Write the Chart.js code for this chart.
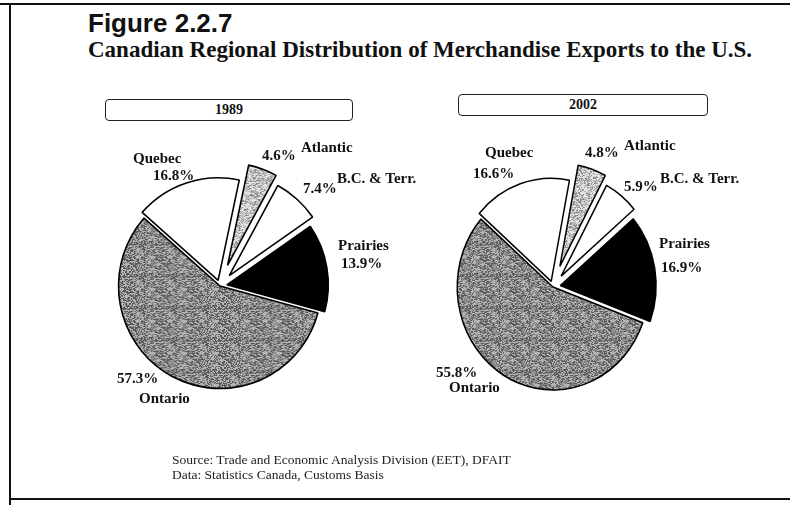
<!DOCTYPE html>
<html>
<head>
<meta charset="utf-8">
<script src="https://cdn.jsdelivr.net/npm/chart.js@4.4.1/dist/chart.umd.min.js"></script>
<style>
  body { margin: 0; background: #fff; }
  #page { position: relative; width: 790px; height: 505px; overflow: hidden; background: #fff; }
  canvas { position: absolute; left: 0; top: 0; }
  .line { position: absolute; background: #111; }
  .fig { position: absolute; left: 88px; top: 10px; font: bold 26px "Liberation Sans", Arial, sans-serif; line-height: 1; color: #111; }
  .sub { position: absolute; left: 88px; top: 38px; font: bold 23px "Liberation Serif", "Times New Roman", serif; line-height: 1; color: #111; white-space: nowrap; }
  .box { position: absolute; border: 1.5px solid #222; border-radius: 4px; height: 20px; text-align: center;
         font: bold 14px "Liberation Serif", "Times New Roman", serif; line-height: 20px; color: #111; }
  .src { position: absolute; left: 172px; top: 452px; font: 13.5px "Liberation Serif", "Times New Roman", serif; color: #222; line-height: 15px; }
</style>
</head>
<body>
<div id="page">
  <div class="line" style="left:0;top:3px;width:790px;height:2px"></div>
  <div class="line" style="left:9px;top:3px;width:2px;height:502px"></div>
  <div class="line" style="left:9px;top:498px;width:781px;height:2px"></div>

  <div class="fig">Figure 2.2.7</div>
  <div class="sub">Canadian Regional Distribution of Merchandise Exports to the U.S.</div>

  <div class="box" id="box0" style="left:105px;top:99px;width:246px"></div>
  <div class="box" id="box1" style="left:458px;top:94px;width:248px"></div>

  <canvas id="pie1989" width="790" height="505"></canvas>
  <canvas id="pie2002" width="790" height="505"></canvas>

  <div class="src">Source: Trade and Economic Analysis Division (EET), DFAIT<br>Data: Statistics Canada, Customs Basis</div>
</div>

<script>
// ==========================
// DADOS
// ==========================
const years = ['1989', '2002'];
const regions = ['Atlantic', 'B.C. & Terr.', 'Prairies', 'Ontario', 'Quebec'];
const shares1989 = [4.6, 7.4, 13.9, 57.3, 16.8];
const shares2002 = [4.8, 5.9, 16.9, 55.8, 16.6];

// ==========================
// ESTILO / LAYOUT
// ==========================
// pie centre, radius, horizontal squash (the scan is slightly oval),
// start angle (deg from 12 o'clock) and explode distance per slice
const pies = [
  { id: 'pie1989', cx: 220, cy: 286, r: 102.5, sx: 0.99, rotation: 12, explode: [22, 14, 7, 0, 6] },
  { id: 'pie2002', cx: 553, cy: 287, r: 103, sx: 0.93, rotation: 11, explode: [22, 14, 8, 0, 6] }
];

// label anchors: [name x, name y, pct x, pct y] (left / baseline)
const labelPos = [
  [
    [301, 152, 262, 160],
    [337, 183, 303, 193],
    [338, 250, 341, 268],
    [139, 403, 117, 383],
    [133, 163, 153, 180]
  ],
  [
    [624, 150, 585, 157],
    [660, 183, 624, 191],
    [659, 248, 661, 272],
    [449, 392, 436, 377],
    [485, 157, 473, 178]
  ]
];

// stippled grey like the printed halftone (fixed integer hash, no randomness)
function stipple(dark, light, density) {
  const n = 32;
  const c = document.createElement('canvas');
  c.width = c.height = n;
  const g = c.getContext('2d');
  for (let y = 0; y < n; y++) {
    for (let x = 0; x < n; x++) {
      let h = (Math.imul(x, 374761393) + Math.imul(y, 668265263)) >>> 0;
      h = Math.imul(h ^ (h >>> 13), 1274126177) >>> 0;
      h = (h ^ (h >>> 16)) >>> 0;
      g.fillStyle = (h % 1000) / 1000 < density ? dark : light;
      g.fillRect(x, y, 1, 1);
    }
  }
  return g.createPattern(c, 'repeat');
}

const fills = [
  stipple('#8a8a8a', '#e2e2e2', 0.4),   // Atlantic
  '#ffffff',                            // B.C. & Terr.
  '#000000',                            // Prairies
  stipple('#5a5a5a', '#b4b4b4', 0.5),   // Ontario
  '#ffffff'                             // Quebec
];

// ==========================
// PLUGINS
// ==========================
// push each slice out along its bisector (keeps radius unchanged)
const explodePlugin = {
  id: 'explode',
  afterDatasetUpdate(chart, args) {
    const shifts = chart.options.plugins.explode.shifts;
    args.meta.data.forEach((arc, i) => {
      const mid = (arc.startAngle + arc.endAngle) / 2;
      arc.x += Math.cos(mid) * shifts[i];
      arc.y += Math.sin(mid) * shifts[i];
    });
  }
};

// oval look of the printed pies
const squashPlugin = {
  id: 'squash',
  beforeDatasetsDraw(chart) {
    const s = chart.options.plugins.squash;
    const ctx = chart.ctx;
    ctx.save();
    ctx.translate(s.cx, 0);
    ctx.scale(s.sx, 1);
    ctx.translate(-s.cx, 0);
  },
  afterDatasetsDraw(chart) {
    chart.ctx.restore();
  }
};

const labelPlugin = {
  id: 'pieLabels',
  afterDraw(chart) {
    const o = chart.options.plugins.pieLabels;
    const ctx = chart.ctx;
    const values = chart.data.datasets[0].data;
    ctx.save();
    ctx.fillStyle = '#111';
    ctx.font = 'bold 15px "Liberation Serif", "Times New Roman", serif';
    ctx.textBaseline = 'alphabetic';
    ctx.textAlign = 'left';
    chart.data.labels.forEach((name, i) => {
      const p = o.pos[i];
      ctx.fillText(name, p[0], p[1]);
      ctx.fillText(values[i].toFixed(1) + '%', p[2], p[3]);
    });
    ctx.restore();
  }
};

// ==========================
// GRÁFICOS
// ==========================
function criarPizza(cfg, valores, pos) {
  const side = 2 * cfg.r + 1.6;
  const left = cfg.cx - side / 2;
  const top = cfg.cy - side / 2;
  return new Chart(document.getElementById(cfg.id), {
    type: 'pie',
    data: {
      labels: regions,
      datasets: [{
        data: valores,
        backgroundColor: fills,
        borderColor: '#000',
        borderWidth: 1.6,
        hoverBorderWidth: 1.6,
        hoverOffset: 0,
        offset: 0
      }]
    },
    options: {
      responsive: false,
      animation: false,
      events: [],
      rotation: cfg.rotation,
      layout: {
        padding: { left: left, top: top, right: 790 - left - side, bottom: 505 - top - side }
      },
      plugins: {
        legend: { display: false },
        tooltip: { enabled: false },
        explode: { shifts: cfg.explode },
        squash: { cx: cfg.cx, sx: cfg.sx },
        pieLabels: { pos: pos }
      }
    },
    plugins: [explodePlugin, squashPlugin, labelPlugin]
  });
}

document.getElementById('box0').textContent = years[0];
document.getElementById('box1').textContent = years[1];

criarPizza(pies[0], shares1989, labelPos[0]);
criarPizza(pies[1], shares2002, labelPos[1]);
</script>
</body>
</html>
